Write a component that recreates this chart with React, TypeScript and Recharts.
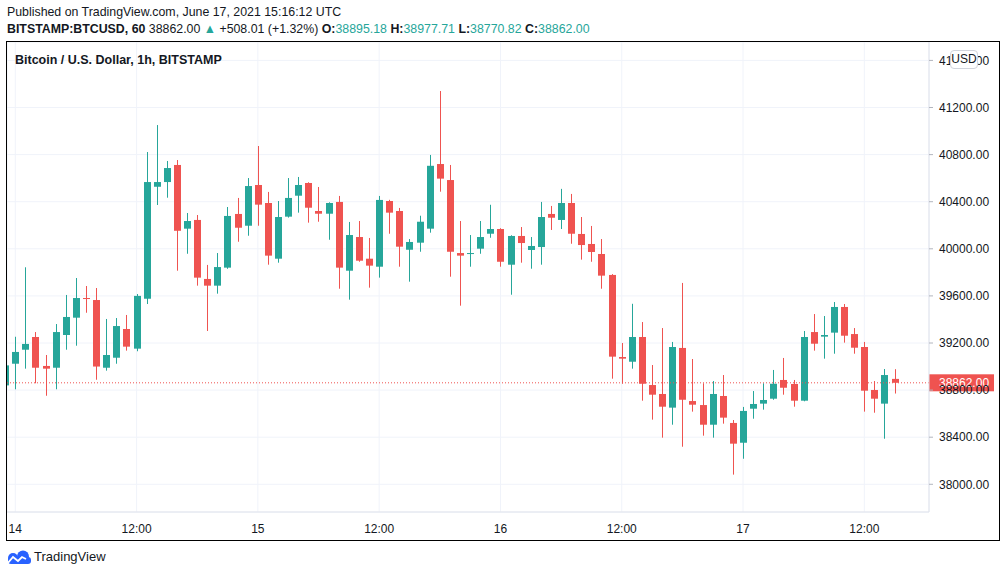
import { Bar, CartesianGrid, ComposedChart, ReferenceLine, XAxis, YAxis } from 'recharts';

const GREEN = '#26a69a';
const RED = '#ef5350';
const TEXT = '#131722';
const GRID = '#f0f3fa';
const AXIS = '#e0e3eb';
const FONT = '"Liberation Sans", Arial, sans-serif';

// hourly candles, BITSTAMP BTCUSD, 13 Jun 23:00 -> 17 Jun 15:00 (UTC)
const FIRST_HOUR = -1; // hours since 14 Jun 00:00
const opens = [
  38840, 39024, 39143, 39251, 39005, 38990, 39268, 39415, 39582, 39565, 38990, 39075, 39319, 39152, 39576, 40527,
  40567, 40712, 40171, 40245, 39744, 39687, 39840, 40296, 40196, 40542, 40389, 39916, 40273, 40451, 40559, 40321,
  40298, 40398, 39814, 40100, 39916, 39848, 40406, 40321, 39992, 40052, 40171, 40720, 40584, 39964, 39958, 40001,
  40128, 40168, 39865, 40109, 39990, 40015, 40296, 40245, 40389, 40126, 40041, 39956, 39778, 39081, 39041, 39251,
  38843, 38767, 38651, 39158, 38707, 38673, 38506, 38750, 38521, 38353, 38642, 38685, 38727, 38886, 38852, 38710,
  39293, 39254, 39288, 39506, 39276, 39166, 38801, 38685, 38895.18,
];
const highs = [
  39020, 39253, 39843, 39293, 39098, 39361, 39608, 39752, 39684, 39667, 39404, 39412, 39438, 39616, 40822, 41051,
  40746, 40754, 40304, 40287, 39863, 39964, 40355, 40432, 40601, 40873, 40483, 40406, 40601, 40610, 40565, 40525,
  40395, 40449, 40228, 40236, 40092, 40449, 40416, 40347, 40083, 40281, 40797, 41340, 40712, 40236, 40117, 40236,
  40374, 40175, 40115, 40185, 40100, 40398, 40364, 40509, 40466, 40270, 40194, 40083, 39785, 39200, 39533, 39378,
  39013, 39327, 39209, 39710, 39064, 38858, 38877, 38928, 38546, 38657, 38792, 38858, 38971, 39073, 38886, 39302,
  39446, 39429, 39548, 39531, 39327, 39209, 38877, 38979, 38977.71,
];
const lows = [
  38830, 38807, 38982, 38858, 38752, 38807, 39143, 39177, 39457, 38888, 38965, 39024, 39135, 39130, 39531, 40372,
  40434, 39814, 39958, 39687, 39302, 39619, 39830, 40060, 40111, 40196, 39865, 39882, 40265, 40307, 40222, 40230,
  40077, 39661, 39568, 39890, 39670, 39755, 40128, 39848, 39721, 39975, 40137, 40485, 39763, 39517, 39848, 39958,
  40094, 39848, 39610, 39882, 39831, 39865, 40160, 40168, 40043, 39908, 39890, 39661, 38897, 38854, 38982, 38710,
  38549, 38396, 38506, 38319, 38617, 38413, 38396, 38515, 38082, 38217, 38557, 38634, 38718, 38761, 38659, 38705,
  39135, 39067, 39109, 39203, 39109, 38617, 38608, 38387, 38770.82,
];
const closes = [
  39010, 39124, 39192, 38990, 38982, 39293, 39421, 39582, 39575, 39000, 39098, 39344, 39169, 39600, 40567, 40567,
  40686, 40153, 40236, 39755, 39687, 39845, 40279, 40179, 40533, 40375, 39942, 40270, 40432, 40542, 40349, 40298,
  40389, 39840, 40117, 39899, 39857, 40415, 40307, 40018, 40058, 40230, 40705, 40596, 39975, 39942, 39964, 40100,
  40168, 39890, 40109, 40049, 40024, 40270, 40264, 40389, 40128, 40032, 39973, 39772, 39084, 39067, 39251, 38854,
  38761, 38659, 39166, 38718, 38676, 38506, 38767, 38566, 38345, 38623, 38682, 38716, 38854, 38820, 38710, 39251,
  39194, 39268, 39506, 39262, 39160, 38795, 38727, 38928, 38862,
];

const lastPrice = 38862;
const xTicks = [0, 12, 24, 36, 48, 60, 72, 84];
const xTickLabels = ['14', '12:00', '15', '12:00', '16', '12:00', '17', '12:00'];
const yTicks = [38000, 38400, 38800, 39200, 39600, 40000, 40400, 40800, 41200, 41600];

const data = opens.map((o, i) => ({
  t: FIRST_HOUR + i,
  open: o,
  high: highs[i],
  low: lows[i],
  close: closes[i],
}));

const fmtX = (v: number) => xTickLabels[xTicks.indexOf(v)] ?? '';

function Candle(props: any) {
  const { x, y, width, height, payload } = props;
  if (x == null || y == null || !payload) return null;
  const { open, close, high, low } = payload;
  const color = close >= open ? GREEN : RED;
  const k = high > low ? height / (high - low) : 0;
  const yOf = (v: number) => y + (high - v) * k;
  const cx = Math.floor(x + width / 2) + 0.5;
  const top = yOf(Math.max(open, close));
  const bottom = yOf(Math.min(open, close));
  return (
    <g>
      <line x1={cx} x2={cx} y1={y} y2={y + height} stroke={color} strokeWidth={1} />
      <rect x={cx - 3.5} y={top} width={7} height={Math.max(1, bottom - top)} fill={color} />
    </g>
  );
}

function PriceTag(props: any) {
  const vb = props.viewBox ?? {};
  const right = (vb.x ?? 0) + (vb.width ?? 0);
  const y = vb.y ?? 0;
  return (
    <g>
      <rect x={right} y={y - 8.5} width={65} height={17} fill={RED} />
      <text x={right + 10} y={y} dy="0.35em" fill="#fff" fontSize={12} fontFamily={FONT}>
        {lastPrice.toFixed(2)}
      </text>
    </g>
  );
}

function Logo() {
  return (
    <svg width={26} height={14} viewBox="0 0 26 14" style={{ position: 'absolute', left: 6, top: 550 }}>
      <circle cx={7} cy={8} r={5} fill="#2962ff" />
      <circle cx={17} cy={6.5} r={6} fill="#2962ff" />
      <rect x={2} y={7} width={23} height={7} rx={3} fill="#2962ff" />
      <polyline points="1,14 7,7 12,11 16,7 20,9" fill="none" stroke="#fff" strokeWidth={1.8} />
    </svg>
  );
}

export default function App() {
  const abs = { position: 'absolute' as const, whiteSpace: 'nowrap' as const };
  const narrow = { transform: 'scaleX(0.95)', transformOrigin: 'left center' };
  return (
    <div style={{ position: 'absolute', left: 0, top: 0, width: 1006, height: 577, background: '#fff', fontFamily: FONT, color: TEXT }}>
      <div style={{ ...abs, ...narrow, left: 7, top: 4, fontSize: 13, lineHeight: '16px' }}>
        Published on TradingView.com, June 17, 2021 15:16:12 UTC
      </div>
      <div style={{ ...abs, ...narrow, left: 7, top: 21, fontSize: 13, lineHeight: '16px' }}>
        <b>BITSTAMP:BTCUSD, 60</b> 38862.00 <span style={{ color: GREEN }}>▲</span> +508.01 (+1.32%) <b>O:</b>
        <span style={{ color: GREEN }}>38895.18</span> <b>H:</b>
        <span style={{ color: GREEN }}>38977.71</span> <b>L:</b>
        <span style={{ color: GREEN }}>38770.82</span> <b>C:</b>
        <span style={{ color: GREEN }}>38862.00</span>
      </div>

      <div style={{ position: 'absolute', left: 6, top: 41, width: 994, height: 500, border: '1px solid #000', boxSizing: 'border-box' }} />

      <div style={{ position: 'absolute', left: 7, top: 42 }}>
        <ComposedChart width={992} height={498} data={data} margin={{ top: 0, right: 0, bottom: 0, left: 0 }}>
          <CartesianGrid stroke={GRID} />
          <XAxis
            dataKey="t"
            type="number"
            domain={[-0.821, 90.4]}
            allowDataOverflow
            ticks={xTicks}
            tickFormatter={fmtX}
            height={28}
            axisLine={{ stroke: AXIS }}
            tickLine={false}
            tickMargin={6}
            tick={{ fill: TEXT, fontSize: 12, fontFamily: FONT }}
          />
          <YAxis
            orientation="right"
            width={70}
            domain={[37764.7, 41756.4]}
            allowDataOverflow
            ticks={yTicks}
            tickFormatter={(v: number) => v.toFixed(2)}
            axisLine={{ stroke: AXIS }}
            tickLine={{ stroke: '#b2b5be' }}
            tickSize={4}
            tickMargin={6}
            tick={{ fill: TEXT, fontSize: 12, fontFamily: FONT }}
          />
          <Bar
            dataKey={(d: any) => [d.low, d.high]}
            barSize={7}
            shape={(p: any) => <Candle {...p} />}
            isAnimationActive={false}
          />
          <ReferenceLine y={lastPrice} stroke={RED} strokeDasharray="1 2" label={(p: any) => <PriceTag {...p} />} />
        </ComposedChart>
      </div>

      <div style={{ ...abs, left: 15, top: 52, fontSize: 12.5, fontWeight: 'bold', lineHeight: '16px' }}>
        Bitcoin / U.S. Dollar, 1h, BITSTAMP
      </div>
      <div
        style={{
          ...abs,
          left: 950,
          top: 50,
          width: 28,
          height: 19,
          boxSizing: 'border-box',
          border: '1px solid #d1d4dc',
          borderRadius: 4,
          background: '#fff',
          fontSize: 12,
          lineHeight: '17px',
          textAlign: 'center',
        }}
      >
        USD
      </div>

      <Logo />
      <div style={{ ...abs, left: 34, top: 549, fontSize: 13, lineHeight: '16px' }}>TradingView</div>
    </div>
  );
}
